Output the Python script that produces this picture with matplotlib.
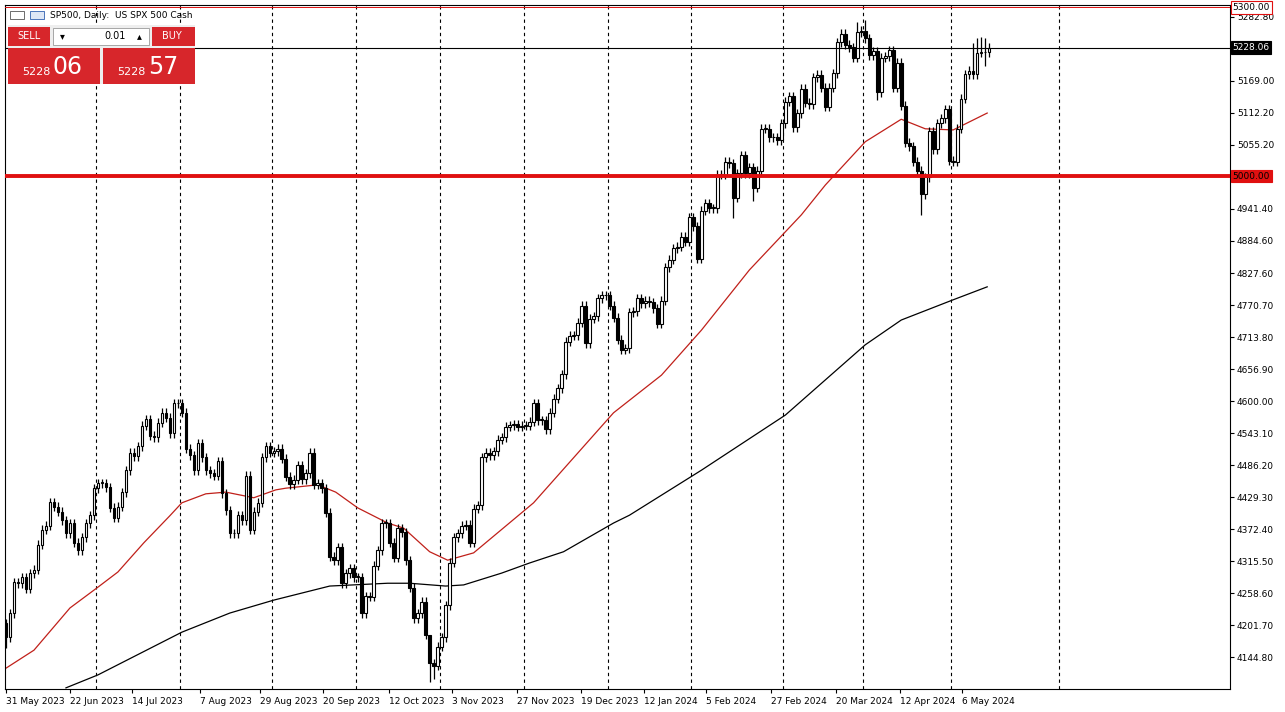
import matplotlib
matplotlib.use("Agg")
import matplotlib.pyplot as plt
from matplotlib.patches import Rectangle
import numpy as np

plt.rcParams['font.family'] = ['DejaVu Sans']

closes = [4180,4223,4278,4276,4287,4266,4294,4300,4344,4371,4378,4420,4412,4403,4388,4365,4383,4348,4335,4358,
          4383,4397,4445,4454,4454,4447,4410,4392,4412,4438,4477,4508,4502,4520,4556,4568,4538,4536,4561,4579,
          4570,4543,4596,4596,4579,4515,4504,4477,4525,4500,4477,4472,4467,4493,4436,4406,4365,4365,4397,4388,
          4467,4371,4403,4419,4500,4520,4508,4511,4515,4497,4465,4452,4460,4486,4461,4472,4508,4451,4454,4445,
          4401,4323,4317,4340,4276,4294,4303,4287,4287,4223,4253,4252,4307,4335,4383,4383,4348,4321,4374,4367,
          4317,4268,4214,4223,4243,4184,4134,4129,4163,4180,4237,4312,4358,4365,4378,4380,4348,4408,4415,4500,
          4508,4504,4511,4531,4536,4554,4557,4559,4554,4556,4556,4563,4596,4566,4566,4550,4579,4604,4623,4648,
          4705,4716,4717,4739,4769,4703,4746,4751,4783,4788,4788,4769,4748,4709,4691,4694,4758,4760,4783,4774,
          4778,4776,4765,4737,4778,4838,4851,4872,4874,4892,4883,4927,4911,4853,4938,4952,4943,4943,5002,5002,
          5025,5023,4961,5005,5037,5005,5016,4979,5009,5084,5084,5069,5069,5064,5094,5132,5142,5087,5112,5155,
          5130,5128,5176,5180,5157,5123,5157,5183,5238,5253,5233,5229,5210,5256,5258,5245,5215,5222,5149,5210,
          5213,5224,5157,5201,5125,5059,5053,5025,5009,4968,4998,5080,5048,5094,5103,5119,5027,5025,5084,5137,
          5181,5187,5181,5219,5220,5220,5228]
first_open = 4205
notable_high = {106: 4150, 213: 5274, 215: 5277, 243: 5245, 244: 5248, 245: 5246, 242: 5236}
notable_low = {0: 4160, 106: 4100, 107: 4105, 229: 4931, 245: 5196, 218: 5135, 182: 4925, 187: 4955}

ma50_idx = [0,7,16,23,28,34.5,41,44,50,55,62,67.5,70,78,82.5,88,95.5,99.5,106,110.5,117,132,152,164,174,186,199,205,215,224,230,237,245.5]
ma50_val = [4125,4157,4232,4269,4296,4348,4396,4419,4435,4438,4428,4442,4445,4451,4438,4410,4383,4374,4332,4317,4330,4419,4579,4646,4726,4833,4931,4984,5061,5101,5084,5082,5112]
ma200_idx = [15,23,44,56,67,81,95.5,101,110,114.5,124,131,139.5,152,156,174,195,215,224,237,245.5]
ma200_val = [4090,4113,4189,4223,4246,4271,4276,4276,4271,4273,4294,4312,4332,4383,4397,4477,4575,4700,4744,4780,4803]

yticks = [5282.80,5169.00,5112.20,5055.20,4941.40,4884.60,4827.60,4770.70,4713.80,4656.90,4600.00,
          4543.10,4486.20,4429.30,4372.40,4315.50,4258.60,4201.70,4144.80]
xlabels = ["31 May 2023","22 Jun 2023","14 Jul 2023","7 Aug 2023","29 Aug 2023","20 Sep 2023","12 Oct 2023",
           "3 Nov 2023","27 Nov 2023","19 Dec 2023","12 Jan 2024","5 Feb 2024","27 Feb 2024","20 Mar 2024",
           "12 Apr 2024","6 May 2024"]
xlabel_pos = [0,16,31.5,48.5,63.5,79.25,95.75,111.5,127.75,143.75,159.75,175.25,191.5,207.75,223.75,239.25]
grid_pos = [22.5,43.5,66.5,87.5,108.5,129.5,150.5,171.5,194.5,214.5,236.5,263.5]

W, H = 1285, 712
fig = plt.figure(figsize=(W/100, H/100), dpi=100)
fig.patch.set_facecolor('white')
ax = fig.add_axes([5/W, 1-689/H, (1230-5)/W, (689-5)/H])
ylo, yhi = 5313-1.778*689, 5313-1.778*5
ax.set_ylim(ylo, yhi)
ax.set_xlim(-0.25, 306.25)

n = len(closes)
opens = [first_open] + closes[:-1]
for i in range(n):
    o, c = opens[i], closes[i]
    top, bot = max(o, c), min(o, c)
    hi = notable_high.get(i, top + 8)
    lo = notable_low.get(i, bot - 8)
    ax.plot([i, i], [lo, hi], color='black', lw=0.9, zorder=3, solid_capstyle='butt')
    fc = 'white' if c >= o else 'black'
    h = max(top - bot, 1.2)
    ax.add_patch(Rectangle((i-0.32, bot), 0.64, h, facecolor=fc, edgecolor='black', lw=0.8, zorder=4))

ax.plot(ma50_idx, ma50_val, color='#c0201a', lw=0.9, zorder=2)
ax.plot(ma200_idx, ma200_val, color='black', lw=0.9, zorder=2)

for g in grid_pos:
    ax.axvline(g, color='black', ls=(0, (3, 3)), lw=0.8, zorder=1)
ax.axhline(5000, color='#e01010', lw=2.8, zorder=5)
ax.axhline(5228.06, color='black', lw=0.8, zorder=5)
ax.axhline(5300, color='#e01010', lw=0.7, zorder=5)

ax.set_yticks(yticks)
ax.set_yticklabels([f"{v:.2f}" for v in yticks])
ax.yaxis.tick_right()
ax.tick_params(axis='y', labelsize=6.5, length=3, pad=2)
ax.set_xticks(xlabel_pos)
ax.set_xticklabels(xlabels, ha='left')
ax.tick_params(axis='x', labelsize=6.5, length=3, pad=3)
for s in ax.spines.values():
    s.set_linewidth(0.8)

# price tags
def tag(price, text, fc, ec, tc):
    ax.text(1.002, price, text, transform=ax.get_yaxis_transform(), fontsize=6.5, color=tc, va='center',
            ha='left', bbox=dict(boxstyle='square,pad=0.2', fc=fc, ec=ec, lw=0.8), zorder=10, clip_on=False)
tag(5300, "5300.00", 'white', '#e01010', 'black')
tag(5228.06, "5228.06", 'black', 'black', 'white')
tag(5000, "5000.00", '#e01010', '#e01010', 'black')

# header and one-click panel
def fx(x): return x/W
def fy(y): return 1-y/H
fig.text(fx(50), fy(15), "SP500, Daily:  US SPX 500 Cash", fontsize=6.5, va='center')
fig.patches.append(Rectangle((fx(10), fy(19)), 14/W, 8/H, transform=fig.transFigure, fc='white', ec='#555555', lw=0.6))
fig.patches.append(Rectangle((fx(30), fy(19)), 14/W, 8/H, transform=fig.transFigure, fc='#dde6f5', ec='#3060b0', lw=0.6))
red = '#d7262b'
fig.patches.append(Rectangle((fx(8), fy(84)), 187/W, 59/H, transform=fig.transFigure, fc='#eeeeee', ec='none'))
fig.patches.append(Rectangle((fx(8), fy(46)), 42/W, 19/H, transform=fig.transFigure, fc=red, ec='none'))
fig.patches.append(Rectangle((fx(152), fy(46)), 43/W, 19/H, transform=fig.transFigure, fc=red, ec='none'))
fig.patches.append(Rectangle((fx(53), fy(45)), 96/W, 17/H, transform=fig.transFigure, fc='white', ec='#999999', lw=0.6))
fig.patches.append(Rectangle((fx(8), fy(84)), 92/W, 36/H, transform=fig.transFigure, fc=red, ec='none'))
fig.patches.append(Rectangle((fx(103), fy(84)), 92/W, 36/H, transform=fig.transFigure, fc=red, ec='none'))
fig.text(fx(29), fy(36), "SELL", color='white', fontsize=7, ha='center', va='center')
fig.text(fx(172), fy(36), "BUY", color='white', fontsize=7, ha='center', va='center')
fig.text(fx(62), fy(36), "\u25be", color='black', fontsize=7, ha='center', va='center')
fig.text(fx(139), fy(36), "\u25b4", color='black', fontsize=7, ha='center', va='center')
fig.text(fx(126), fy(36), "0.01", color='black', fontsize=7, ha='right', va='center')
fig.text(fx(22), fy(72), "5228", color='white', fontsize=8, ha='left', va='center')
fig.text(fx(53), fy(67), "06", color='white', fontsize=17, ha='left', va='center')
fig.text(fx(117), fy(72), "5228", color='white', fontsize=8, ha='left', va='center')
fig.text(fx(148), fy(67), "57", color='white', fontsize=17, ha='left', va='center')

fig.savefig("out.png", dpi=100, facecolor='white')
